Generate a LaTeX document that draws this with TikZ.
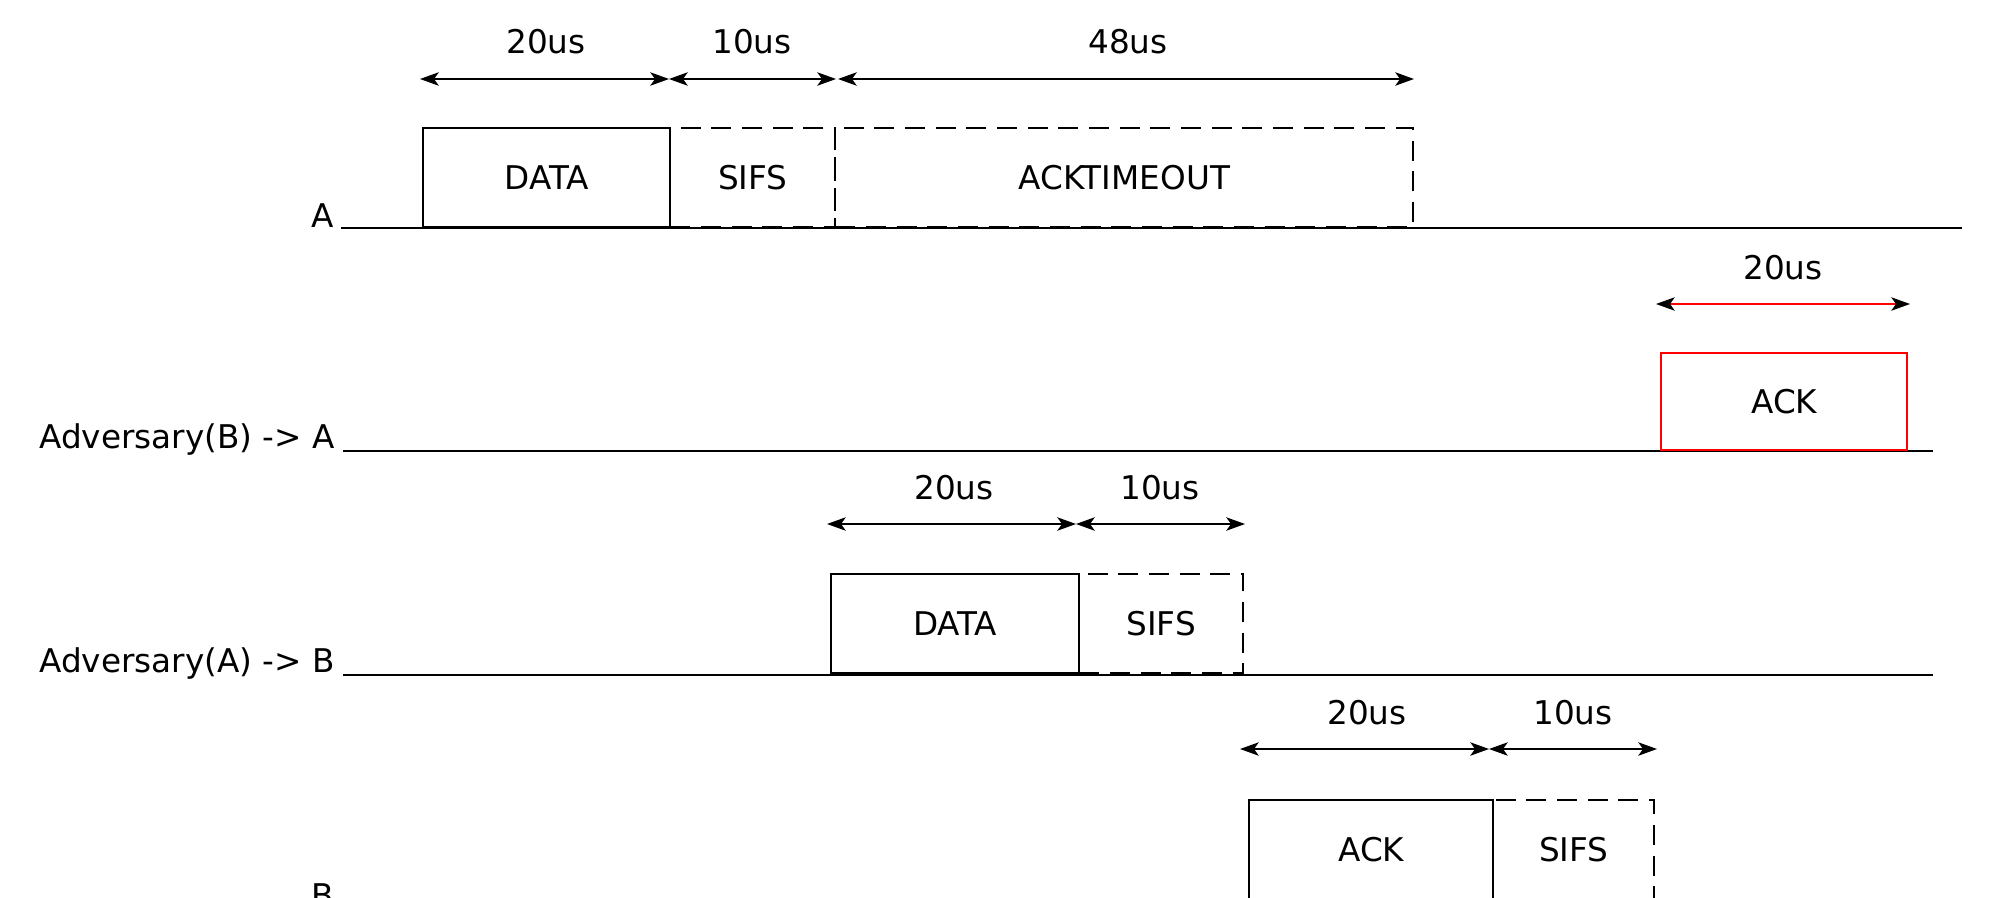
\documentclass[tikz,border=0pt]{standalone}
\usepackage{fontspec}
\setmainfont{DejaVu Sans}
\usetikzlibrary{arrows.meta}
\begin{document}
\begin{tikzpicture}[x=0.75pt,y=-0.75pt,
  font=\fontsize{24.5}{28}\selectfont,
  timeline/.style={line width=1.8pt},
  slot/.style={draw, line width=1.8pt, inner sep=0pt, anchor=south west, minimum height=0.75*99pt},
  dslot/.style={slot, dash pattern=on 15pt off 8pt},
  rslot/.style={slot, draw=red},
  tip/.style={},
  dim/.style={line width=1.6pt, {Stealth[length=14pt,width=10pt,inset=3.5pt]}-{Stealth[length=14pt,width=10pt,inset=3.5pt]}},
  rdim/.style={line width=1.6pt, red, {Stealth[length=14pt,width=10pt,inset=3.5pt,color=black]}-{Stealth[length=14pt,width=10pt,inset=3.5pt,color=black]}},
  rowlabel/.style={anchor=base east, inner sep=0pt},
  dimlabel/.style={inner sep=0pt}]
\path[use as bounding box, clip] (0,0) rectangle (1994,897);

% ---------- Row A ----------
\node[rowlabel] (lA) at (334,227) {A};
\coordinate (eA) at (1962,228);
\draw[timeline] (341,228) coordinate (sA) -- (eA);
\node[slot, minimum width=0.75*247pt] (dataA) at (422,228) {};
\node at (dataA.center) {DATA};
\node[dslot, minimum width=0.75*165pt] (sifsA) at (669,228) {};
\node at (sifsA.center) {SIFS};
\node[dslot, minimum width=0.75*578pt] (toA) at (834,228) {};
\node at (toA.center) {ACKTIMEOUT};
\coordinate (a1) at (420,79);
\coordinate (a2) at (669,79);
\coordinate (a3) at (836,79);
\coordinate (a4) at (838,79);
\coordinate (a5) at (1414,79);
\draw[dim] (a1) -- (a2);
\draw[dim] (a2) -- (a3);
\draw[dim] (a4) -- (a5);
\node[dimlabel] (t1) at (546,42) {20us};
\node[dimlabel] (t2) at (752,42) {10us};
\node[dimlabel] (t3) at (1128,42) {48us};

% ---------- Row Adversary(B) -> A ----------
\node[rowlabel] (lBA) at (335,448) {Adversary(B) -> A};
\coordinate (sBA) at (343,451);
\coordinate (eBA) at (1933,451);
\draw[timeline] (sBA) -- (eBA);
\node[rslot, minimum width=0.75*246pt, minimum height=0.75*97pt] (ackBA) at (1660,451) {};
\node at (ackBA.center) {ACK};
\coordinate (b1) at (1656,304);
\coordinate (b2) at (1910,304);
\draw[rdim] (b1) -- (b2);
\node[dimlabel] (t4) at (1783,268) {20us};

% ---------- Row Adversary(A) -> B ----------
\node[rowlabel] (lAB) at (335,672) {Adversary(A) -> B};
\coordinate (sAB) at (343,675);
\coordinate (eAB) at (1933,675);
\draw[timeline] (sAB) -- (eAB);
\node[slot, minimum width=0.75*248pt] (dataAB) at (830,674) {};
\node at (dataAB.center) {DATA};
\node[dslot, minimum width=0.75*164pt] (sifsAB) at (1078,674) {};
\node at (sifsAB.center) {SIFS};
\coordinate (c1) at (827,524);
\coordinate (c2) at (1076,524);
\coordinate (c3) at (1245,524);
\draw[dim] (c1) -- (c2);
\draw[dim] (c2) -- (c3);
\node[dimlabel] (t5) at (954,488) {20us};
\node[dimlabel] (t6) at (1160,488) {10us};

% ---------- Row B ----------
\node[rowlabel] (lB) at (334,907) {B};
\coordinate (sB) at (343,901);
\coordinate (eB) at (1933,901);
\draw[timeline] (sB) -- (eB);
\node[slot, minimum width=0.75*244pt] (ackB) at (1248,900) {};
\node at (ackB.center) {ACK};
\node[dslot, minimum width=0.75*161pt] (sifsB) at (1492,900) {};
\node at (sifsB.center) {SIFS};
\coordinate (d1) at (1240,749);
\coordinate (d2) at (1489,749);
\coordinate (d3) at (1657,749);
\draw[dim] (d1) -- (d2);
\draw[dim] (d2) -- (d3);
\node[dimlabel] (t7) at (1367,713) {20us};
\node[dimlabel] (t8) at (1573,713) {10us};
\end{tikzpicture}
\end{document}
